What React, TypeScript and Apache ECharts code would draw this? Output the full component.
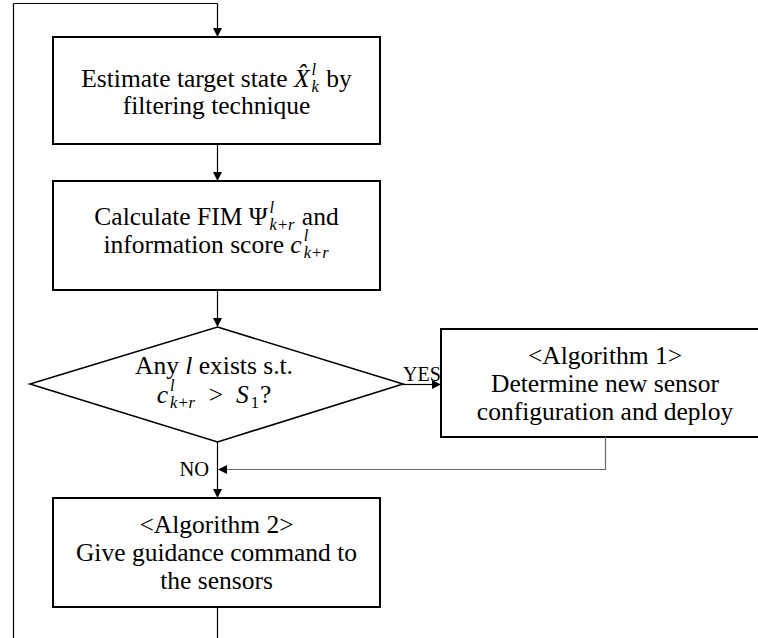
import React, { useEffect, useRef } from "react";
import * as echarts from "echarts";

interface Seg { t: string; it?: boolean; sup?: string; sub?: string }

const box1Lines: Seg[][] = [
  [{ t: "Estimate target state " }, { t: "X\u0302", it: true, sup: "l", sub: "k" }, { t: " by" }],
  [{ t: "filtering technique" }],
];
const box2Lines: Seg[][] = [
  [{ t: "Calculate FIM " }, { t: "\u03A8", sup: "l", sub: "k+r" }, { t: " and" }],
  [{ t: "information score " }, { t: "c", it: true, sup: "l", sub: "k+r" }],
];
const diamondLines: Seg[][] = [
  [{ t: "Any " }, { t: "l", it: true }, { t: " exists s.t." }],
  [{ t: "c", it: true, sup: "l", sub: "k+r" }, { t: "\u2002>\u2002" }, { t: "S", it: true, sub: "1" }, { t: "?" }],
];
const alg1Lines: Seg[][] = [
  [{ t: "<Algorithm 1>" }],
  [{ t: "Determine new sensor" }],
  [{ t: "configuration and deploy" }],
];
const alg2Lines: Seg[][] = [
  [{ t: "<Algorithm 2>" }],
  [{ t: "Give guidance command to" }],
  [{ t: "the sensors" }],
];
const yesLabel = "YES";
const noLabel = "NO";

const FAMILY = "Liberation Serif";
const MAIN = 25.5;
const SCRIPT = 16.5;

function fontStr(size: number, italic?: boolean) {
  return `${italic ? "italic " : "normal "}normal ${size}px "${FAMILY}", serif`;
}

let ctx: CanvasRenderingContext2D | null = null;
function measure(text: string, size: number, italic?: boolean) {
  if (!ctx) ctx = document.createElement("canvas").getContext("2d");
  if (!ctx) return text.length * size * 0.45;
  ctx.font = fontStr(size, italic);
  return ctx.measureText(text).width;
}

function txt(text: string, x: number, y: number, size: number, italic?: boolean, align = "left", lh?: number) {
  return {
    type: "text",
    x,
    y,
    silent: true,
    style: {
      text,
      font: fontStr(size, italic),
      fill: "#000",
      align,
      verticalAlign: "middle",
      textAlign: align,
      textVerticalAlign: "middle",
      lineHeight: lh,
    },
  };
}

function layoutLine(segs: Seg[], cx: number, cy: number, els: any[]) {
  const GAP = 2;
  const widths = segs.map((s) => {
    const w = measure(s.t, MAIN, s.it);
    const sw = Math.max(s.sup ? measure(s.sup, SCRIPT, true) : 0, s.sub ? measure(s.sub, SCRIPT, true) : 0);
    return w + (sw ? sw + GAP + 1 : 0);
  });
  const total = widths.reduce((a, b) => a + b, 0);
  let x = cx - total / 2;
  segs.forEach((s, i) => {
    const leadStr = (s.t.match(/^\s*/) as RegExpMatchArray)[0];
    const core = s.t.trim();
    if (core) els.push(txt(core, x + measure(leadStr, MAIN, s.it), cy, MAIN, s.it, "left", 22));
    const base = x + measure(s.t, MAIN, s.it) + GAP;
    if (s.sup) els.push(txt(s.sup, base, cy - 9, SCRIPT, true, "left", 12));
    if (s.sub) els.push(txt(s.sub, base, cy + 8, SCRIPT, !/^\d+$/.test(s.sub), "left", 12));
    x += widths[i];
  });
}

function line(x1: number, y1: number, x2: number, y2: number, color = "#000", w = 1.2) {
  return { type: "line", silent: true, shape: { x1, y1, x2, y2 }, style: { stroke: color, lineWidth: w } };
}
function arrowDown(x: number, y: number) {
  return { type: "polygon", silent: true, shape: { points: [[x - 4.5, y - 9], [x + 4.5, y - 9], [x, y]] }, style: { fill: "#000" } };
}
function arrowRight(x: number, y: number) {
  return { type: "polygon", silent: true, shape: { points: [[x - 9, y - 4.5], [x - 9, y + 4.5], [x, y]] }, style: { fill: "#000" } };
}
function arrowLeft(x: number, y: number) {
  return { type: "polygon", silent: true, shape: { points: [[x + 9, y - 4.5], [x + 9, y + 4.5], [x, y]] }, style: { fill: "#000" } };
}
function box(x: number, y: number, w: number, h: number) {
  return { type: "rect", silent: true, shape: { x, y, width: w, height: h }, style: { fill: "#fff", stroke: "#000", lineWidth: 2 } };
}

export default function App() {
  const ref = useRef<HTMLDivElement>(null);
  useEffect(() => {
    if (!ref.current) return;
    const chart = echarts.init(ref.current, undefined, { renderer: "svg" });
    const els: any[] = [];
    const CX = 217.5;
    // loop lines
    els.push(line(13.5, 3.5, 13.5, 640));
    els.push(line(13.5, 3.5, CX, 3.5));
    els.push(line(CX, 3.5, CX, 30));
    els.push(arrowDown(CX, 37));
    // box1
    els.push(box(53, 37, 327, 107));
    els.push(line(CX, 144, CX, 174));
    els.push(arrowDown(CX, 181));
    // box2
    els.push(box(53, 181, 327, 109));
    els.push(line(CX, 290, CX, 320));
    els.push(arrowDown(CX, 327));
    // diamond
    els.push({
      type: "polygon",
      silent: true,
      shape: { points: [[CX, 327], [403, 384], [CX, 442], [30, 384]] },
      style: { fill: "#fff", stroke: "#000", lineWidth: 1.6 },
    });
    els.push(line(403, 384.5, 433, 384.5));
    els.push(arrowRight(441, 384.5));
    els.push(txt(yesLabel, 403, 374, 20, false, "left", 18));
    // alg1 box
    els.push(box(441, 329, 330, 108));
    els.push(line(605.5, 437, 605.5, 469.5, "#666"));
    els.push(line(605.5, 469.5, 226, 469.5, "#666"));
    els.push(arrowLeft(218, 469.5));
    els.push(txt(noLabel, 209, 469, 20.5, false, "right", 18));
    // down to alg2
    els.push(line(CX, 442, CX, 490));
    els.push(arrowDown(CX, 498));
    els.push(box(53, 498, 327, 109));
    els.push(line(CX, 607, CX, 640));

    // texts
    box1Lines.forEach((l, i) => layoutLine(l, 216.5, 78 + i * 27, els));
    box2Lines.forEach((l, i) => layoutLine(l, 216.5, 216 + i * 28, els));
    diamondLines.forEach((l, i) => layoutLine(l, 214, 365 + i * 29, els));
    alg1Lines.forEach((l, i) => layoutLine(l, 605, 355 + i * 28, els));
    alg2Lines.forEach((l, i) => layoutLine(l, 216.5, 524.5 + i * 28, els));

    chart.setOption({ animation: false, graphic: { elements: els } });
    return () => chart.dispose();
  }, []);
  return (
    <div
      ref={ref}
      style={{ position: "fixed", left: 0, top: 0, width: 758, height: 638, background: "#fff" }}
    />
  );
}
